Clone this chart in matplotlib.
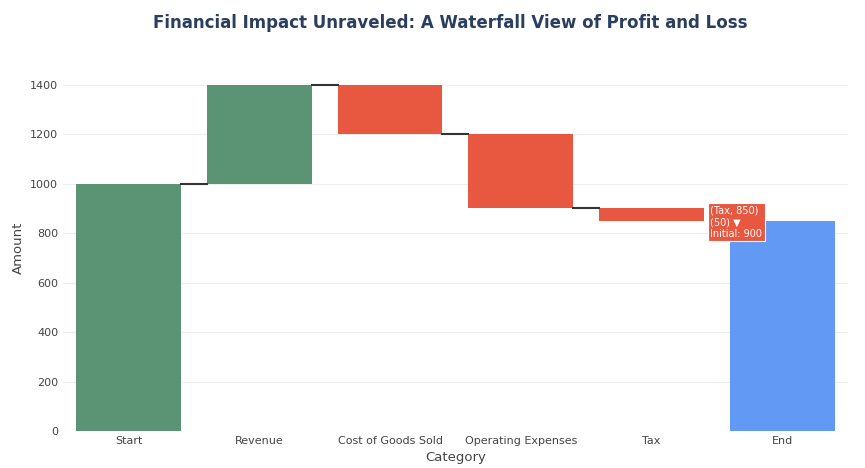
import matplotlib
matplotlib.use('Agg')
import matplotlib.pyplot as plt

categories = ['Start', 'Revenue', 'Cost of Goods Sold', 'Operating Expenses', 'Tax', 'End']
changes = [1000, 400, -200, -300, -50, 850]
kinds = ['total', 'relative', 'relative', 'relative', 'relative', 'total']

GREEN = '#5b9474'
RED = '#e8573f'
BLUE = '#6199f5'

fig = plt.figure(figsize=(8.65, 4.68), dpi=100)
ax = fig.add_axes([0.073, 0.079, 0.907, 0.782])

running = 0
tops = []
for i, (c, k) in enumerate(zip(changes, kinds)):
    if k == 'total':
        base, height, color = 0, c, (BLUE if i == len(changes) - 1 else GREEN)
        running = c
    else:
        base = running if c >= 0 else running + c
        height = abs(c)
        color = GREEN if c >= 0 else RED
        running += c
    ax.bar(i, height, bottom=base, width=0.8, color=color, zorder=2)
    tops.append(running)

for i in range(len(changes) - 2):
    ax.plot([i + 0.4, i + 0.6], [tops[i], tops[i]], color='#333333', lw=1.5, zorder=3)

ax.annotate('(Tax, 850)\n(50) \u25bc\nInitial: 900', xy=(4.4, 850), xytext=(4.45, 845),
            fontsize=7, color='white', va='center', ha='left',
            bbox=dict(boxstyle='square,pad=0.25', fc=RED, ec='white', lw=0.8), zorder=5)

ax.set_xlim(-0.5, 5.5)
ax.set_ylim(0, 1480)
ax.set_yticks(range(0, 1401, 200))
ax.set_xticks(range(len(categories)))
ax.set_xticklabels(categories)
ax.tick_params(length=0, labelsize=8, colors='#444444')
ax.grid(axis='y', color='#eeeeee', lw=0.8, zorder=0)
for s in ax.spines.values():
    s.set_visible(False)
ax.set_xlabel('Category', fontsize=9.5, color='#444444')
ax.set_ylabel('Amount', fontsize=9.5, color='#444444')
fig.suptitle('Financial Impact Unraveled: A Waterfall View of Profit and Loss',
             x=0.52, y=0.97, fontsize=12, fontweight='bold', color='#2a3f5f')

fig.savefig('out.png', dpi=100)
